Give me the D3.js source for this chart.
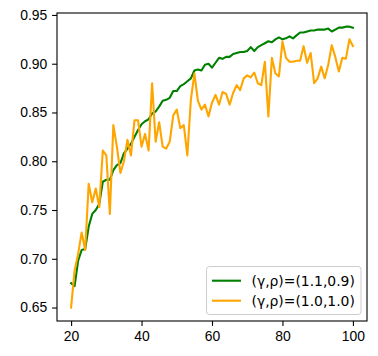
<!DOCTYPE html>
<html>
<head>
<meta charset="utf-8">
<script src="https://cdn.jsdelivr.net/npm/d3@7"></script>
<style>
  body { margin: 0; background: #fff; }
  svg { display: block; font-family: "DejaVu Sans", sans-serif; }
</style>
</head>
<body>
<svg id="chart"></svg>
<script>
// epochs 20..100
const epochs = d3.range(20, 101);

// (γ,ρ)=(1.1,0.9)
const greenVals = [
  0.675, 0.672, 0.698, 0.709, 0.710, 0.733, 0.746, 0.750, 0.756, 0.779,
  0.781, 0.781, 0.791, 0.796, 0.798, 0.808, 0.813, 0.818, 0.825, 0.832,
  0.838, 0.841, 0.843, 0.849, 0.851, 0.856, 0.862, 0.863, 0.865, 0.872,
  0.872, 0.877, 0.879, 0.882, 0.885, 0.893, 0.894, 0.893, 0.899, 0.900,
  0.896, 0.901, 0.906, 0.905, 0.907, 0.907, 0.910, 0.911, 0.912, 0.912,
  0.913, 0.917, 0.913, 0.917, 0.919, 0.921, 0.923, 0.922, 0.925, 0.927,
  0.925, 0.926, 0.928, 0.926, 0.929, 0.932, 0.932, 0.933, 0.934, 0.934,
  0.935, 0.935, 0.935, 0.936, 0.933, 0.935, 0.937, 0.937, 0.938, 0.938,
  0.937
];

// (γ,ρ)=(1.0,1.0)
const orangeVals = [
  0.650, 0.688, 0.705, 0.727, 0.709, 0.777, 0.758, 0.772, 0.753, 0.811,
  0.806, 0.746, 0.837, 0.815, 0.788, 0.800, 0.822, 0.806, 0.842, 0.842,
  0.815, 0.828, 0.811, 0.880, 0.820, 0.840, 0.815, 0.813, 0.820, 0.847,
  0.853, 0.834, 0.837, 0.806, 0.863, 0.890, 0.862, 0.853, 0.858, 0.846,
  0.860, 0.868, 0.858, 0.871, 0.869, 0.858, 0.870, 0.878, 0.873, 0.885,
  0.888, 0.886, 0.891, 0.880, 0.878, 0.902, 0.846, 0.906, 0.890, 0.887,
  0.923, 0.906, 0.902, 0.902, 0.903, 0.903, 0.918, 0.901, 0.911, 0.880,
  0.885, 0.897, 0.885, 0.899, 0.919, 0.907, 0.892, 0.906, 0.905, 0.925,
  0.918
];

const xTicks = [20, 40, 60, 80, 100];
const yTicks = [0.65, 0.70, 0.75, 0.80, 0.85, 0.90, 0.95];

const seriesNames = ['(γ,ρ)=(1.1,0.9)', '(γ,ρ)=(1.0,1.0)'];
const seriesColors = ['#008000', '#ffa500'];

const W = 378, H = 356;
const margin = { top: 13, right: 11, bottom: 35, left: 57 };
const width = W - margin.left - margin.right;
const height = H - margin.top - margin.bottom;

const svg = d3.select('#chart').attr('width', W).attr('height', H);
const g = svg.append('g').attr('transform', `translate(${margin.left},${margin.top})`);

const x = d3.scaleLinear().domain([16, 104]).range([0, width]);
const y = d3.scaleLinear().domain([0.6362, 0.952]).range([height, 0]);

// axes
const xAxis = d3.axisBottom(x).tickValues(xTicks).tickSize(4.9).tickPadding(4.9).tickFormat(d3.format('d'));
const yAxis = d3.axisLeft(y).tickValues(yTicks).tickSize(4.9).tickPadding(4.9).tickFormat(d3.format('.2f'));

const xg = g.append('g').attr('transform', `translate(0,${height})`).call(xAxis);
const yg = g.append('g').call(yAxis);
[xg, yg].forEach(a => {
  a.select('.domain').remove();
  a.selectAll('line').attr('stroke', '#000').attr('stroke-width', 1.1);
  a.selectAll('text').attr('fill', '#000').style('font-size', '13.9px');
});

// lines
const line = d3.line().x((d, i) => x(epochs[i])).y(d => y(d));
[greenVals, orangeVals].forEach((vals, k) => {
  g.append('path')
    .datum(vals)
    .attr('fill', 'none')
    .attr('stroke', seriesColors[k])
    .attr('stroke-width', 2.1)
    .attr('stroke-linejoin', 'round')
    .attr('stroke-linecap', 'square')
    .attr('d', line);
});

// frame
g.append('rect')
  .attr('width', width).attr('height', height)
  .attr('fill', 'none').attr('stroke', '#000').attr('stroke-width', 1.1);

// legend
const lg = svg.append('g').attr('transform', 'translate(206.5,266.5)');
lg.append('rect')
  .attr('width', 154.5).attr('height', 48)
  .attr('rx', 3).attr('fill', '#fff').attr('fill-opacity', 0.8)
  .attr('stroke', '#cccccc').attr('stroke-width', 1);
seriesNames.forEach((name, i) => {
  const yy = 14.2 + i * 20;
  lg.append('line')
    .attr('x1', 5.5).attr('x2', 34.5).attr('y1', yy).attr('y2', yy)
    .attr('stroke', seriesColors[i]).attr('stroke-width', 2.1);
  lg.append('text')
    .attr('x', 45).attr('y', yy).attr('dy', '0.35em')
    .style('font-size', '13.9px').attr('fill', '#000')
    .text(name);
});
</script>
</body>
</html>
